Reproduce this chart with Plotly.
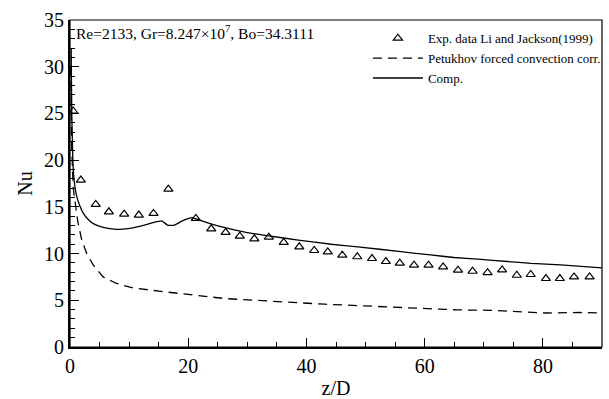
import plotly.graph_objects as go

# Experimental Nusselt numbers (Li and Jackson, 1999)
exp_z = [0.54, 1.83, 4.35, 6.58, 9.16, 11.64, 14.13, 16.64, 21.29, 23.89,
         26.33, 28.72, 31.19, 33.64, 36.16, 38.79, 41.31, 43.61, 46.06, 48.6,
         51.09, 53.44, 55.79, 58.2, 60.65, 63.12, 65.64, 68.1, 70.64, 73.1,
         75.59, 77.94, 80.52, 82.87, 85.27, 87.9]
exp_nu = [25.26, 17.87, 15.26, 14.47, 14.22, 14.12, 14.3, 16.9, 13.76, 12.65,
          12.26, 11.86, 11.58, 11.76, 11.19, 10.72, 10.33, 10.18, 9.83, 9.66,
          9.47, 9.15, 8.97, 8.76, 8.76, 8.57, 8.22, 8.11, 7.95, 8.25,
          7.68, 7.76, 7.33, 7.33, 7.5, 7.5]

# Petukhov forced convection correlation
pet_z = [0.12, 0.3, 0.55, 0.87, 1.3, 2.0, 2.83, 3.95, 5.6, 7.87, 10.65, 15.1,
         20.7, 26.3, 31.4, 37.5, 43.1, 48.7, 54.3, 59.9, 65.5, 71.1, 76.7,
         80.6, 86.2, 90.0]
pet_nu = [30.0, 21.0, 17.0, 15.4, 13.5, 11.4, 10.0, 8.76, 7.5, 6.8, 6.33, 5.97,
          5.54, 5.18, 5.0, 4.76, 4.58, 4.43, 4.29, 4.11, 3.97, 3.93, 3.75,
          3.64, 3.69, 3.64]

# Computed Nusselt number
comp_z = [0.2, 0.3, 0.45, 0.59, 0.85, 1.15, 1.6, 2.27, 3.0, 3.94, 5.6, 7.87,
          10.1, 12.3, 14.0, 15.5, 16.5, 17.65, 19.0, 20.7, 21.8, 24.0, 27.4,
          30.0, 33.0, 38.6, 44.2, 48.7, 56.0, 61.0, 65.0, 69.0, 74.0, 78.0,
          83.0, 90.0]
comp_nu = [32.0, 25.0, 20.8, 18.6, 17.1, 16.1, 15.2, 14.3, 13.7, 13.2, 12.8, 12.6,
           12.7, 13.0, 13.3, 13.5, 13.05, 13.05, 13.5, 13.85, 13.6, 13.15, 12.6,
           12.25, 11.95, 11.45, 11.0, 10.72, 10.2, 9.85, 9.58, 9.4, 9.15, 8.95,
           8.8, 8.47]

SERIF = "Liberation Serif"

fig = go.Figure()
fig.add_trace(go.Scatter(
    x=exp_z, y=exp_nu, mode="markers", name="Exp. data Li and Jackson(1999)",
    marker=dict(symbol="triangle-up-open", size=8, color="black",
                line=dict(width=1.2, color="black")),
))
fig.add_trace(go.Scatter(
    x=pet_z, y=pet_nu, mode="lines", name="Petukhov forced convection corr.",
    line=dict(color="black", width=1.3, dash="9px,6px"),
))
fig.add_trace(go.Scatter(
    x=comp_z, y=comp_nu, mode="lines", name="Comp.",
    line=dict(color="black", width=1.3, shape="spline", smoothing=0.5),
))

axis_common = dict(
    showline=True, linecolor="black", linewidth=2,
    ticks="inside", ticklen=9, tickwidth=1.3, tickcolor="black",
    showgrid=False, zeroline=False,
    tickfont=dict(family=SERIF, size=20, color="black"),
)

fig.update_layout(
    width=609, height=399,
    margin=dict(l=70, r=3, t=20, b=52),
    plot_bgcolor="white", paper_bgcolor="white",
    font=dict(family=SERIF, color="black"),
    xaxis=dict(range=[0, 90], tick0=0, dtick=20,
               minor=dict(dtick=5, ticks="inside", ticklen=5, tickcolor="black", tickwidth=1.2),
               title=dict(text="z/D", font=dict(family=SERIF, size=20), standoff=6),
               **axis_common),
    yaxis=dict(range=[0, 35], tick0=0, dtick=5,
               minor=dict(dtick=1, ticks="inside", ticklen=5, tickcolor="black", tickwidth=1.2),
               title=dict(text="Nu", font=dict(family=SERIF, size=20), standoff=6),
               **axis_common),
    legend=dict(x=0.56, y=0.99, xanchor="left", yanchor="top", itemwidth=50,
                bgcolor="rgba(0,0,0,0)", font=dict(family=SERIF, size=13),
                tracegroupgap=0),
    showlegend=True,
    shapes=[dict(type="rect", xref="paper", yref="paper", x0=0, y0=0, x1=1, y1=1,
                 line=dict(color="black", width=1.2))],
    annotations=[dict(
        text="Re=2133, Gr=8.247×10<sup>7</sup>, Bo=34.3111",
        xref="paper", yref="paper", x=0.008, y=1.0, xanchor="left", yanchor="top",
        showarrow=False, font=dict(family=SERIF, size=15.5, color="black"),
    )],
)

fig.write_html("out.html")
